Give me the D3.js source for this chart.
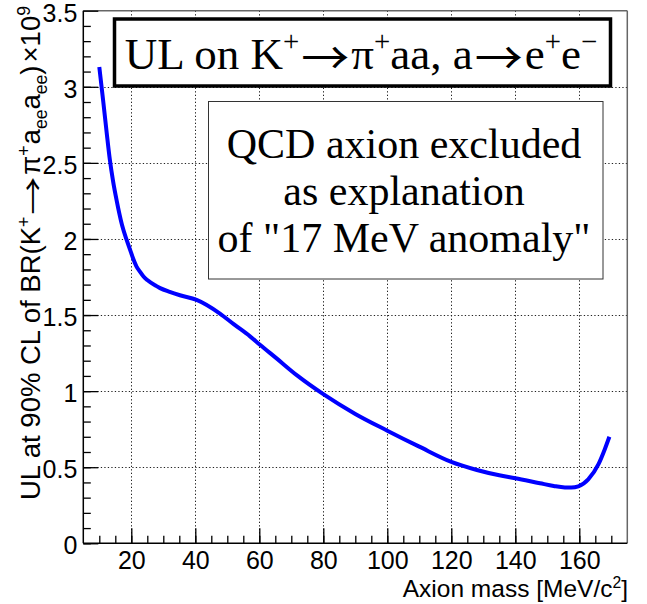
<!DOCTYPE html>
<html>
<head>
<meta charset="utf-8">
<script src="https://cdn.jsdelivr.net/npm/d3@7"></script>
<style>
  html, body { margin: 0; padding: 0; background: #fff; }
  svg { display: block; }
  .tick text { font-family: "Liberation Sans", Arial, sans-serif; font-size: 25px; fill: #000; }
  .axis path { display: none; }
</style>
</head>
<body>
<svg id="chart" width="647" height="604"></svg>
<script>
// Axion mass [MeV/c^2] and the 90% CL upper limit on BR (units of 1e-9)
const axionMass = [10, 11.25, 12.3, 13.3, 14.3, 15.4, 17, 18.6, 19.6, 20.6, 21.6, 22.7, 23.75, 25, 27.9, 29, 32, 35.2, 40.4,
  47.7, 52, 57.1, 60.2, 65.4, 72, 80, 90, 100, 110, 120, 128, 135, 140, 147.7, 152, 155.5, 157.5, 159.7, 162.8, 166, 168, 169.4];
const upperLimit = [3.13, 2.90, 2.70, 2.52, 2.38, 2.255, 2.10, 1.99, 1.93, 1.87, 1.82, 1.785, 1.755, 1.73, 1.69, 1.677, 1.652, 1.63, 1.60,
  1.51, 1.44, 1.36, 1.305, 1.215, 1.10, 0.98, 0.85, 0.74, 0.635, 0.535, 0.482, 0.447, 0.428, 0.395, 0.377, 0.367, 0.366, 0.374, 0.42, 0.52, 0.62, 0.70];

const xMajorTicks = [20, 40, 60, 80, 100, 120, 140, 160];
const xMinorTicks = d3.range(10, 175, 5);
const yMajorTicks = [0, 0.5, 1, 1.5, 2, 2.5, 3, 3.5];
const yTickLabels = ["0", "0.5", "1", "1.5", "2", "2.5", "3", "3.5"];
const yMinorTicks = d3.range(0, 35, 1).map(d => d / 10);

const svg = d3.select("#chart");
const frame = { left: 83.3, right: 627.3, top: 10.7, bottom: 543.3 };

const x = d3.scaleLinear().domain([5, 175]).range([frame.left, frame.right]);
const y = d3.scaleLinear().domain([0, 3.5]).range([frame.bottom, frame.top]);

// dotted grid at the major ticks
const grid = svg.append("g").attr("stroke", "#222").attr("stroke-width", 1).attr("stroke-dasharray", "1.3,2.2");
grid.selectAll("line.gx").data(xMajorTicks).join("line")
  .attr("x1", d => Math.round(x(d)) + 0.5).attr("x2", d => Math.round(x(d)) + 0.5)
  .attr("y1", frame.top).attr("y2", frame.bottom);
grid.selectAll("line.gy").data(yMajorTicks.filter(d => d > 0 && d < 3.5)).join("line")
  .attr("y1", d => Math.round(y(d)) + 0.5).attr("y2", d => Math.round(y(d)) + 0.5)
  .attr("x1", frame.left).attr("x2", frame.right);

// frame
svg.append("line").attr("x1", frame.left).attr("x2", frame.right).attr("y1", frame.top).attr("y2", frame.top)
  .attr("stroke", "#666").attr("stroke-width", 1.5);
svg.append("line").attr("x1", frame.right).attr("x2", frame.right).attr("y1", frame.top).attr("y2", frame.bottom)
  .attr("stroke", "#666").attr("stroke-width", 1.5);

// x axis: major ticks with labels, minor ticks pointing inwards
svg.append("g").attr("class", "axis").attr("transform", `translate(0,${frame.bottom})`)
  .call(d3.axisBottom(x).tickValues(xMinorTicks).tickSize(-7.5).tickFormat(""))
  .selectAll("line").attr("stroke", "#000").attr("stroke-width", 1.3);
svg.append("g").attr("class", "axis").attr("transform", `translate(0,${frame.bottom})`)
  .call(d3.axisBottom(x).tickValues(xMajorTicks).tickSize(-15).tickPadding(8).tickFormat(d3.format("d")))
  .selectAll("line").attr("stroke", "#000").attr("stroke-width", 1.3);

// y axis
svg.append("g").attr("class", "axis").attr("transform", `translate(${frame.left},0)`)
  .call(d3.axisLeft(y).tickValues(yMinorTicks).tickSize(-7.5).tickFormat(""))
  .selectAll("line").attr("stroke", "#000").attr("stroke-width", 1.3);
const yAxisG = svg.append("g").attr("class", "axis").attr("transform", `translate(${frame.left},0)`)
  .call(d3.axisLeft(y).tickValues(yMajorTicks).tickSize(-15).tickPadding(6)
    .tickFormat((d, i) => yTickLabels[i]));
yAxisG.selectAll("line").attr("stroke", "#000").attr("stroke-width", 1.3);
yAxisG.selectAll("text").attr("dy", "0.42em");

svg.append("line").attr("x1", frame.left).attr("x2", frame.right).attr("y1", frame.bottom).attr("y2", frame.bottom)
  .attr("stroke", "#000").attr("stroke-width", 1.5);
svg.append("line").attr("x1", frame.left).attr("x2", frame.left).attr("y1", frame.top).attr("y2", frame.bottom)
  .attr("stroke", "#000").attr("stroke-width", 1.5);

// lays out a run of text pieces (normal / superscript / subscript) one after another
function richText(parent, pieces, size, family) {
  let cursor = 0;
  pieces.forEach(p => {
    const kind = p.k || "n";
    const fs = kind === "n" ? size : size * 0.64;
    const dy = kind === "sup" ? -size * 0.38 : kind === "sub" ? size * 0.24 : (p.dy || 0);
    cursor += p.pre || 0;
    const t = parent.append("text").attr("font-family", p.f || family).attr("font-size", fs)
      .attr("x", cursor).attr("y", dy).text(p.t);
    if (p.len) t.attr("textLength", p.len).attr("lengthAdjust", "spacingAndGlyphs");
    cursor += (p.len || t.node().getComputedTextLength()) + (p.post || 0);
  });
  return cursor;
}

const sans = "'Liberation Sans', Arial, sans-serif";
const serif = "'Liberation Serif', 'Times New Roman', serif";
const arrowFont = "'Noto Sans CJK JP', 'DejaVu Sans', sans-serif";

// x axis title
const xTitle = svg.append("g");
const xTitleW = richText(xTitle, [
  { t: "Axion mass [MeV/c" }, { t: "2", k: "sup" }, { t: "]" }
], 24.5, sans);
xTitle.attr("transform", `translate(${628 - xTitleW},597)`);

// y axis title, right-aligned at the top of the axis
const yTitle = svg.append("g");
const yTitleW = richText(yTitle, [
  { t: "UL at 90% CL of BR(K" }, { t: "+", k: "sup" },
  { t: "\u2192", f: arrowFont, len: 38, pre: 2, post: 2, dy: 3 }, { t: "\u03c0" }, { t: "+", k: "sup" },
  { t: "a", pre: 1 }, { t: "ee", k: "sub" }, { t: "a" }, { t: "ee", k: "sub" }, { t: ")" },
  { t: " \u00d710", pre: 3 }, { t: "9", k: "sup" }
], 27.5, sans);
yTitle.attr("transform", `translate(40,${6 + yTitleW}) rotate(-90)`);

// the limit curve
svg.append("path")
  .datum(axionMass.map((m, i) => [m, upperLimit[i]]))
  .attr("fill", "none").attr("stroke", "#0000ff").attr("stroke-width", 4)
  .attr("stroke-linejoin", "round")
  .attr("d", d3.line().x(d => x(d[0])).y(d => y(d[1])).curve(d3.curveMonotoneX));

// boxed annotations
svg.append("rect").attr("x", 114.5).attr("y", 19).attr("width", 496).attr("height", 67)
  .attr("fill", "#fff").attr("stroke", "#000").attr("stroke-width", 3.5);
const title = svg.append("g");
const titleW = richText(title, [
  { t: "UL on K" }, { t: "+", k: "sup" },
  { t: "\u2192", f: arrowFont, len: 48, pre: 2, post: 2, dy: 6 }, { t: "\u03c0" }, { t: "+", k: "sup" },
  { t: "aa, a" }, { t: "\u2192", f: arrowFont, len: 48, pre: 2, post: 2, dy: 6 },
  { t: "e" }, { t: "+", k: "sup" }, { t: "e" }, { t: "\u2212", k: "sup" }
], 45, serif);
title.attr("transform", `translate(${361 - titleW / 2},68.5)`);

svg.append("rect").attr("x", 208.5).attr("y", 101.5).attr("width", 394.5).attr("height", 177.5)
  .attr("fill", "#fff").attr("stroke", "#333").attr("stroke-width", 1);
const noteLines = ["QCD axion excluded", "as explanation", "of \"17 MeV anomaly\""];
svg.append("g").selectAll("text").data(noteLines).join("text")
  .attr("x", 404).attr("y", (d, i) => 158 + i * 47).attr("text-anchor", "middle")
  .attr("font-family", serif).attr("font-size", 42).text(d => d);
</script>
</body>
</html>
